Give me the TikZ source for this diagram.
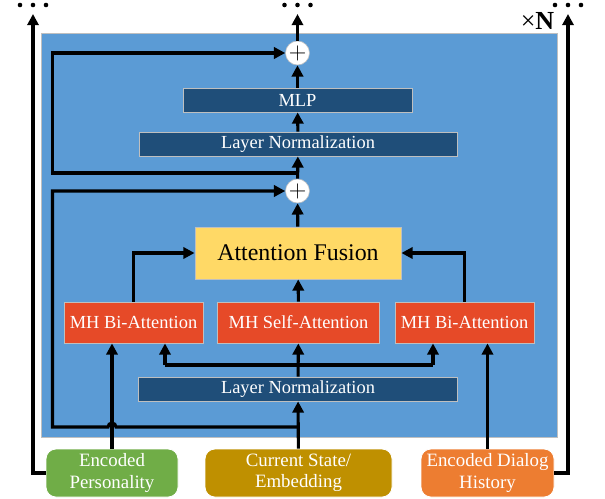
\documentclass[tikz,border=0pt]{standalone}
\usepackage{fontspec}
\setmainfont{Liberation Serif}
\usetikzlibrary{arrows.meta}
\definecolor{panel}{HTML}{5B9BD5}
\definecolor{navy}{HTML}{1F4E79}
\definecolor{attn}{HTML}{E64A28}
\definecolor{fusion}{HTML}{FFD966}
\definecolor{persona}{HTML}{70AD47}
\definecolor{state}{HTML}{BF9000}
\definecolor{history}{HTML}{ED7D31}
\definecolor{rim}{HTML}{BFBFBF}
\newcommand{\unitpx}{0.025cm}
\begin{document}
\begin{tikzpicture}[x=0.025cm, y=-0.025cm,
    wire/.style={line width=2.2pt},
    arr/.style={wire, -{Triangle[length=8pt,width=8pt]}},
    box/.style={draw=rim, line width=0.6pt, inner sep=0pt, text=white, align=center,
      font=\fontsize{13.1}{15}\selectfont},
    bar/.style={box, fill=navy, minimum height=24*\unitpx},
    mh/.style={box, fill=attn, minimum height=41*\unitpx},
    inbox/.style={box, draw=white, rounded corners=7pt, minimum width=132*\unitpx,
      minimum height=48*\unitpx, font=\fontsize{13.4}{15}\selectfont},
    plus/.style={circle, fill=white, draw=rim, line width=0.4pt, minimum size=24*\unitpx,
      inner sep=0pt, font=\fontsize{17}{17}\selectfont}]
    \useasboundingbox (0,0) rectangle (605,499);
    \fill[panel, draw=rim, line width=0.6pt] (41,33) rectangle (557,437);

    \node[plus] (p1) at (297.5,53) {$+$};
    \node[bar, minimum width=229*\unitpx] (mlp) at (297.5,100) {MLP};
    \node[bar, minimum width=318*\unitpx] (lntop) at (298,144) {Layer Normalization};
    \node[plus] (p2) at (297.5,191) {$+$};
    \node[box, fill=fusion, text=black, minimum width=206*\unitpx, minimum height=52*\unitpx,
      font=\fontsize{17}{19}\selectfont] (af) at (298,253) {Attention Fusion};
    \node[mh, minimum width=139*\unitpx] (mhl) at (133.5,322.5) {MH Bi-Attention};
    \node[mh, minimum width=162*\unitpx] (mhs) at (298.5,322.5) {MH Self-Attention};
    \node[mh, minimum width=139*\unitpx] (mhr) at (464.5,322.5) {MH Bi-Attention};
    \node[bar, minimum width=319*\unitpx] (lnbot) at (298,389) {Layer Normalization};
    \node[inbox, fill=persona] (inp) at (112,473) {Encoded\\Personality};
    \node[inbox, fill=state, minimum width=187*\unitpx] (cur) at (298.5,473) {Current State/\\Embedding};
    \node[inbox, fill=history, minimum width=133*\unitpx] (hist) at (487.5,473) {Encoded Dialog\\History};
    \node[font=\fontsize{18.5}{18.5}\selectfont, inner sep=0pt] (rep) at (537.5,21) {×\textbf{N}};

    \coordinate (out) at (297.5,14);
    \coordinate (outl) at (33,14);
    \coordinate (outr) at (568,14);
    \coordinate (s1) at (297.5,173);
    \coordinate (k1) at (52.5,173);
    \coordinate (k2) at (52.5,53);
    \coordinate (s2) at (297.5,427);
    \coordinate (k3) at (52.5,427);
    \coordinate (k4) at (52.5,191);
    \coordinate (bl) at (165,365);
    \coordinate (br) at (433,365);

    \foreach \cx in {33,297.5,568}
      \foreach \dx in {-13,0,13}
        \fill (\cx+\dx,5) circle (2.3);

    \draw[arr] (p1) -- (out);
    \draw[arr] (mlp) -- (p1);
    \draw[arr] (lntop) -- (mlp);
    \draw[arr] (p2) -- (lntop);
    \draw[arr] (af) -- (p2);
    \draw[arr] (s1) -- (k1) -- (k2) -- (p1);
    \draw[arr] (s2) -- (116,427) arc (0:-180:4) -- (k3) -- (k4) -- (p2);
    \draw[arr] (mhl.north) |- (af.west);
    \draw[arr] (mhr.north) |- (af.east);
    \draw[arr] (mhs) -- (af);
    \draw[arr] (cur) -- (lnbot);
    \draw[arr] (lnbot) -- (mhs);
    \draw[wire] (bl) -- (br);
    \draw[arr] (bl) -- (bl |- mhl.south);
    \draw[arr] (br) -- (br |- mhr.south);
    \draw[arr] (inp) -- (inp |- mhl.south);
    \draw[arr] (hist) -- (hist |- mhr.south);
    \draw[arr] (inp.west) -| (outl);
    \draw[arr] (hist.east) -| (outr);
\end{tikzpicture}
\end{document}
